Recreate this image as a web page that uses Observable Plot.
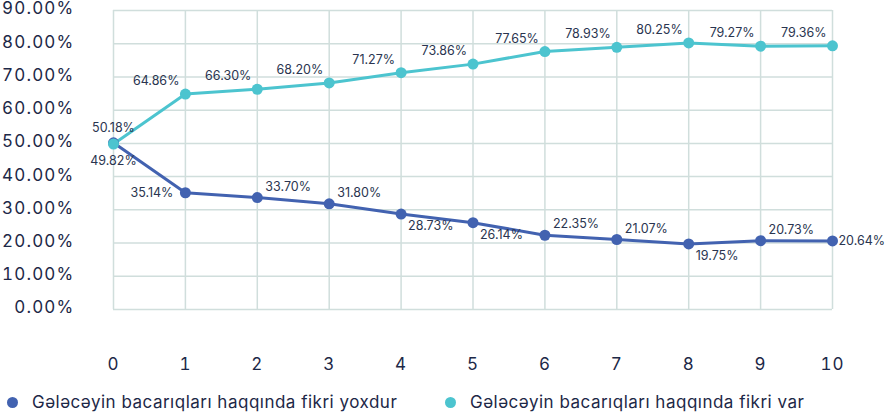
<!DOCTYPE html>
<html>
<head>
<meta charset="utf-8">
<script src="https://cdn.jsdelivr.net/npm/d3@7"></script>
<script src="https://cdn.jsdelivr.net/npm/@observablehq/plot@0.6"></script>
<style>
  body { margin: 0; background: #fff; font-family: Inter, "Noto Sans", sans-serif; }
  #chart { width: 885px; }
  #chart svg { overflow: visible; }
  #chart g[aria-label="y-axis tick label"] text { letter-spacing: 1.2px; }
  #chart g[aria-label="x-axis tick label"] text { letter-spacing: 1px; }
  .legend { position: relative; height: 31px; width: 885px; color: #1d2847; font-size: 17px; letter-spacing: 0.5px; }
  .legend .item { position: absolute; top: 7px; display: flex; align-items: center; white-space: nowrap; }
  .legend .dot { width: 11px; height: 11px; border-radius: 50%; margin-right: 14px; }
</style>
</head>
<body>
<div id="chart"></div>
<script>
// ---- data ----
const xValues = [0, 1, 2, 3, 4, 5, 6, 7, 8, 9, 10];
const seriesNames = [
  "Gələcəyin bacarıqları haqqında fikri yoxdur",
  "Gələcəyin bacarıqları haqqında fikri var"
];
const noIdea = [50.18, 35.14, 33.70, 31.80, 28.73, 26.14, 22.35, 21.07, 19.75, 20.73, 20.64];
const hasIdea = [49.82, 64.86, 66.30, 68.20, 71.27, 73.86, 77.65, 78.93, 80.25, 79.27, 79.36];
const yTicks = [0, 10, 20, 30, 40, 50, 60, 70, 80, 90];
// label placement keywords (not coordinates)
const noIdeaPlace = ["above", "left", "upright", "upright", "downright", "downright", "upright", "upright", "downright", "upright", "right"];
const hasIdeaPlace = ["below", "upleft", "upleft", "upleft", "upleft", "upleft", "upleft", "upleft", "upleft", "upleft", "upleft"];

const colors = ["#4262b0", "#4cc4cf"];
const fmt = v => d3.format(".2f")(v) + "%";

const rows = [];
xValues.forEach((x, i) => {
  rows.push({x, y: noIdea[i], s: seriesNames[0], place: noIdeaPlace[i]});
  rows.push({x, y: hasIdea[i], s: seriesNames[1], place: hasIdeaPlace[i]});
});

const placeStyle = {
  above:     {textAnchor: "middle", dx: 0,  dy: -15},
  below:     {textAnchor: "middle", dx: 0,  dy: 17},
  left:      {textAnchor: "end",    dx: -12, dy: 0},
  right:     {textAnchor: "start",  dx: 6,  dy: 0},
  upright:   {textAnchor: "start",  dx: 8,  dy: -11},
  downright: {textAnchor: "start",  dx: 7,  dy: 12},
  upleft:    {textAnchor: "end",    dx: -6, dy: -13}
};

const labelMarks = Object.entries(placeStyle).map(([k, st]) =>
  Plot.text(rows.filter(d => d.place === k), {
    x: "x", y: "y", text: d => fmt(d.y),
    textAnchor: st.textAnchor, dx: st.dx, dy: st.dy,
    fill: "#2a3550", fontSize: 12.5
  })
);

const chart = Plot.plot({
  width: 885,
  height: 385,
  marginLeft: 113,
  marginRight: 53,
  marginTop: 10,
  marginBottom: 76,
  style: {fontFamily: "Inter, 'Noto Sans', sans-serif", color: "#1d2847", background: "#fff", overflow: "visible"},
  x: {domain: [0, 10], ticks: xValues},
  y: {domain: [0, 90], ticks: yTicks},
  color: {domain: seriesNames, range: colors},
  marks: [
    Plot.gridX(xValues, {stroke: "#d0dedc", strokeOpacity: 1, strokeWidth: 1.5}),
    Plot.gridY(yTicks, {stroke: "#d0dedc", strokeOpacity: 1, strokeWidth: 1.5}),
    Plot.axisY(yTicks, {tickSize: 0, tickPadding: 39, dy: -1.5, tickFormat: d => d3.format(".2f")(d) + "%", fontSize: 17, fill: "#1d2847", label: null}),
    Plot.axisX(xValues, {tickSize: 0, tickPadding: 48, fontSize: 17, fill: "#1d2847", label: null}),
    Plot.line(rows, {x: "x", y: "y", stroke: "s", strokeWidth: 3}),
    Plot.dot(rows, {x: "x", y: "y", fill: "s", r: 5.5}),
    ...labelMarks
  ]
});
document.getElementById("chart").appendChild(chart);

const legend = document.createElement("div");
legend.className = "legend";
const lefts = [7, 445];
seriesNames.forEach((name, i) => {
  const item = document.createElement("div");
  item.className = "item";
  item.style.left = lefts[i] + "px";
  const dot = document.createElement("span");
  dot.className = "dot";
  dot.style.background = colors[i];
  const txt = document.createElement("span");
  txt.textContent = name;
  item.appendChild(dot);
  item.appendChild(txt);
  legend.appendChild(item);
});
document.body.appendChild(legend);
</script>
</body>
</html>
